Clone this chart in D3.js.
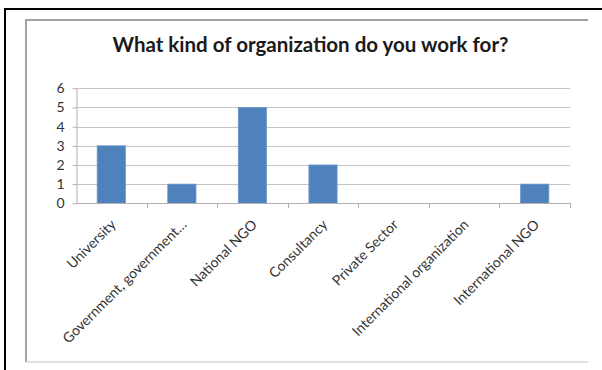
<!DOCTYPE html>
<html>
<head>
<meta charset="utf-8">
<script src="https://cdn.jsdelivr.net/npm/d3@7/dist/d3.min.js"></script>
<style>
  html, body { margin: 0; padding: 0; background: #fff; }
  svg { display: block; }
  text { font-family: Lato, "Open Sans", sans-serif; fill: #333; }
</style>
</head>
<body>
<svg id="chart" width="602" height="370"></svg>
<script>
// Survey responses: type of employing organization
const categories = [
  "University",
  "Government, government…",
  "National NGO",
  "Consultancy",
  "Private Sector",
  "International organization",
  "International NGO"
];
const counts = [3, 1, 5, 2, 0, 0, 1];
const yTicks = [0, 1, 2, 3, 4, 5, 6];
const title = "What kind of organization do you work for?";

const svg = d3.select("#chart");

// page frame and chart-area frame
svg.append("path")
  .attr("d", "M5,370 V9 H602")
  .attr("fill", "none").attr("stroke", "#000").attr("stroke-width", 2);
svg.append("path")
  .attr("d", "M26,362 V20 H588")
  .attr("fill", "none").attr("stroke", "#a3a3a3").attr("stroke-width", 2);
svg.append("line")
  .attr("x1", 26).attr("x2", 588).attr("y1", 362).attr("y2", 362)
  .attr("stroke", "#d6d6d6").attr("stroke-width", 1.5);

// title
svg.append("text")
  .attr("x", 310.5).attr("y", 52)
  .attr("text-anchor", "middle")
  .style("font-weight", "bold")
  .style("font-size", "20.5px")
  .style("fill", "#1a1a1a")
  .text(title);

const plot = { left: 76, right: 570, top: 88.3, bottom: 203.3 };

const x = d3.scaleBand()
  .domain(categories)
  .range([plot.left, plot.right])
  .paddingInner(0.6)
  .paddingOuter(0.3);
const band = d3.scaleBand().domain(categories).range([plot.left, plot.right]);

const y = d3.scaleLinear().domain([0, 6]).range([plot.bottom, plot.top]);

// horizontal gridlines
svg.append("g")
  .selectAll("line")
  .data(yTicks.filter(d => d > 0))
  .join("line")
  .attr("x1", plot.left).attr("x2", plot.right)
  .attr("y1", d => Math.round(y(d)) + 0.5).attr("y2", d => Math.round(y(d)) + 0.5)
  .attr("stroke", "#c4c4c4").attr("stroke-width", 1);

// bars
svg.append("g")
  .selectAll("rect")
  .data(categories.map((c, i) => ({ c, v: counts[i] })))
  .join("rect")
  .attr("x", d => x(d.c))
  .attr("width", x.bandwidth())
  .attr("y", d => y(d.v))
  .attr("height", d => y(0) - y(d.v))
  .attr("fill", "#4f81bd")
  .attr("stroke", "#6f97c9").attr("stroke-width", 0.8);

// y axis
const yAxis = svg.append("g")
  .attr("transform", `translate(${plot.left + 0.5},0)`)
  .call(d3.axisLeft(y).tickValues(yTicks).tickFormat(d3.format("d")).tickSize(4).tickSizeOuter(0).tickPadding(8));
yAxis.select(".domain").attr("stroke", "#b0b0b0");
yAxis.selectAll(".tick line").attr("stroke", "#b0b0b0");
yAxis.selectAll(".tick text")
  .style("font-size", "14px").style("fill", "#333").style("font-family", "Lato, sans-serif");

// x axis with ticks at category boundaries
const xAxisG = svg.append("g");
xAxisG.append("line")
  .attr("x1", plot.left).attr("x2", plot.right)
  .attr("y1", Math.round(plot.bottom) + 0.5).attr("y2", Math.round(plot.bottom) + 0.5)
  .attr("stroke", "#b0b0b0");
const bounds = categories.map(c => band(c)).concat([plot.right]).slice(1);
xAxisG.selectAll(".bt")
  .data(bounds)
  .join("line")
  .attr("x1", d => Math.round(d) + 0.5).attr("x2", d => Math.round(d) + 0.5)
  .attr("y1", Math.round(plot.bottom)).attr("y2", Math.round(plot.bottom) + 5)
  .attr("stroke", "#b0b0b0");

// rotated category labels
xAxisG.selectAll(".lbl")
  .data(categories)
  .join("text")
  .attr("transform", c => `translate(${band(c) + band.bandwidth() / 2 + 2},222) rotate(-45)`)
  .attr("text-anchor", "end")
  .attr("dy", "0.35em")
  .style("font-size", "14px")
  .text(c => c);
</script>
</body>
</html>
